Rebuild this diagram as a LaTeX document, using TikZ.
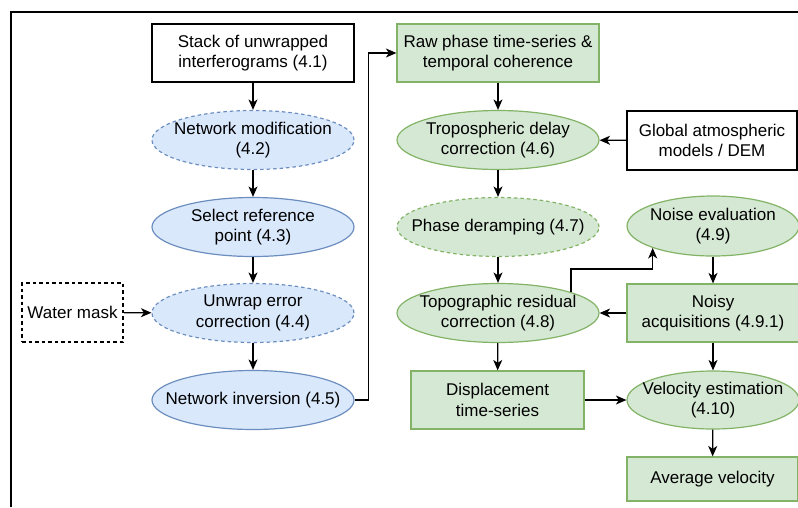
\documentclass[tikz,border=0pt]{standalone}
\usepackage{fontspec}
\setmainfont{Liberation Sans}
\usetikzlibrary{shapes.geometric,arrows.meta}
\definecolor{blueFill}{HTML}{DAE8FC}
\definecolor{blueLine}{HTML}{6C8EBF}
\definecolor{greenFill}{HTML}{D5E8D4}
\definecolor{greenLine}{HTML}{82B366}
\begin{document}
\begin{tikzpicture}[x=1pt, y=1pt,
        font=\fontsize{17}{20.5}\selectfont,
        box/.style={rectangle, draw, line width=1.2pt, align=center, inner sep=0pt, minimum width=202pt, minimum height=58pt},
        blueell/.style={ellipse, draw=blueLine, fill=blueFill, line width=1.2pt, align=center, inner xsep=-40pt, inner ysep=-12pt, minimum width=202pt, minimum height=59pt},
        greenell/.style={ellipse, draw=greenLine, fill=greenFill, line width=1.2pt, align=center, inner xsep=-40pt, inner ysep=-12pt, minimum width=202pt, minimum height=59pt},
        greenbox/.style={box, draw=greenLine, fill=greenFill},
        dashline/.style={dash pattern=on 3.5pt off 3pt},
        arr/.style={-{Stealth[length=10.5pt, width=9pt, inset=3pt]}, line width=1.2pt}]
            \clip (0,0) rectangle (798,-507);
            % Outer frame
            \draw[line width=2pt] (11,-507) -- (11,-12) -- (798,-12);
            % Left column - blue
            \node at (253,-53) (stack) [box] {Stack of unwrapped\\interferograms (4.1)};
            \node at (253,-140) (netmod) [blueell, dashline] {Network modification\\(4.2)};
            \node at (253,-227) (selref) [blueell] {Select reference\\point (4.3)};
            \node at (253,-313) (unwrap) [blueell, dashline] {Unwrap error\\correction (4.4)};
            \node at (253,-400) (netinv) [blueell] {Network inversion (4.5)};
            \node at (72.5,-312.5) (water) [box, dashline, minimum width=101pt, minimum height=59pt] {Water mask};
            \draw[arr] (stack) -- (netmod);
            \draw[arr] (netmod) -- (selref);
            \draw[arr] (selref) -- (unwrap);
            \draw[arr] (water) -- (unwrap);
            \draw[arr] (unwrap) -- (netinv);
            % Middle column - green
            \node at (498,-53) (rawphase) [greenbox] {Raw phase time-series \&\\temporal coherence};
            \node at (498,-140) (tropo) [greenell] {Tropospheric delay\\correction (4.6)};
            \node at (498,-227) (deramp) [greenell, dashline] {Phase deramping (4.7)};
            \node at (498,-313) (topo) [greenell] {Topographic residual\\correction (4.8)};
            \node at (497.5,-400) (disp) [greenbox, minimum width=173pt] {Displacement\\time-series};
            \draw[arr] (netinv.east) -- ++(14,0) |- (rawphase);
            \draw[arr] (rawphase) -- (tropo);
            \draw[arr] (tropo) -- (deramp);
            \draw[arr] (deramp) -- (topo);
            \draw[arr] (topo) -- (disp);
            % Right column
            \node at (712,-140.5) (global) [box, minimum width=170pt, minimum height=59pt] {Global atmospheric\\models / DEM};
            \node at (713,-226) (noise) [greenell, minimum width=172pt, minimum height=60pt] {Noise evaluation\\(4.9)};
            \node at (713,-313) (noisy) [greenbox, minimum width=172pt] {Noisy\\acquisitions (4.9.1)};
            \node at (713,-400) (velo) [greenell, minimum width=172pt, minimum height=58pt] {Velocity estimation\\(4.10)};
            \node at (712.5,-479) (avgvel) [greenbox, minimum width=171pt, minimum height=44pt] {Average velocity};
            \draw[arr] (global) -- (tropo);
            \draw[arr] (topo.16.5) -- ++(0,23) -| (noise.200.3);
            \draw[arr] (noise) -- (noisy);
            \draw[arr] (noisy) -- (topo);
            \draw[arr] (noisy) -- (velo);
            \draw[arr] (disp) -- (velo);
            \draw[arr] (velo) -- (avgvel);
        \end{tikzpicture}
\end{document}
